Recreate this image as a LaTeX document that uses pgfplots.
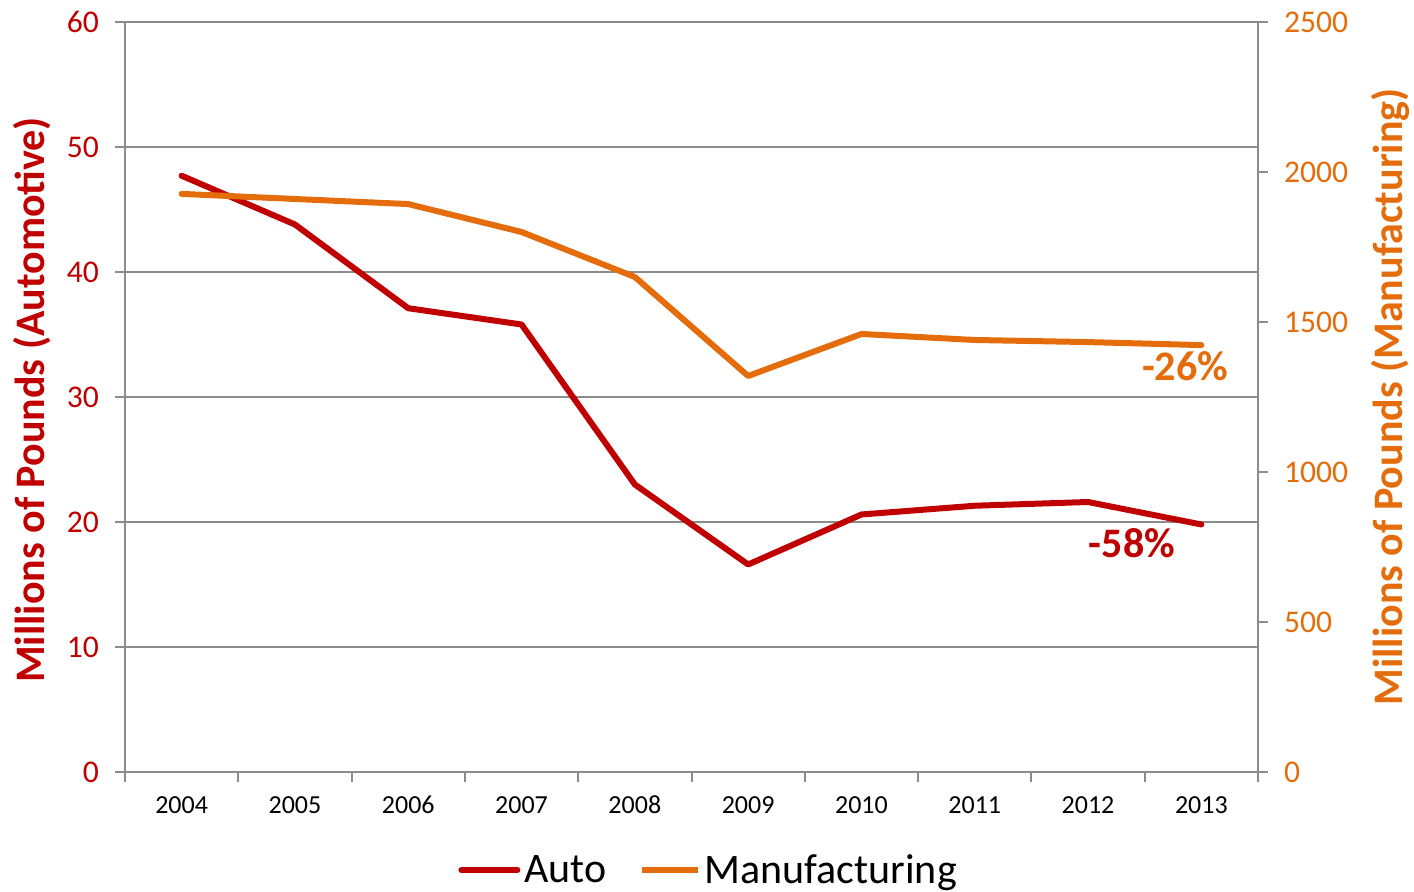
\documentclass[border=0pt]{standalone}
\usepackage{pgfplots}
\pgfplotsset{compat=1.18}
\usepackage{fontspec}
\setmainfont{Carlito}
\definecolor{autored}{HTML}{C00000}
\definecolor{mfgorange}{HTML}{E46C0A}
\definecolor{gridgray}{HTML}{8C8C8C}
\pgfplotsset{/pgf/number format/assume math mode=true, /pgf/number format/1000 sep={}}
\begin{document}
\begin{tikzpicture}
\useasboundingbox (-62.5pt,-60pt) rectangle (644.5pt,386pt);
\begin{axis}[
  scale only axis, width=566.5pt, height=375pt,
  at={(0,0)}, anchor=south west,
  xmin=-0.5, xmax=9.5, ymin=0, ymax=60,
  axis x line*=bottom, axis y line*=left,
  axis line style={gridgray, line width=1pt, -},
  tick style={gridgray, line width=1pt},
  tick align=outside, major tick length=5pt,
  xtick={-0.5,0.5,1.5,2.5,3.5,4.5,5.5,6.5,7.5,8.5,9.5}, xticklabels={},
  extra x ticks={0,1,2,3,4,5,6,7,8,9},
  extra x tick labels={2004,2005,2006,2007,2008,2009,2010,2011,2012,2013},
  extra x tick style={major tick length=0pt, tick label style={font=\fontsize{13}{15}\selectfont, text=black, anchor=base, text height=9pt, yshift=-21pt}},
  ytick={0,10,...,60},
  ymajorgrids, grid style={gridgray, line width=1pt},
  yticklabel style={font=\fontsize{15.8}{18}\selectfont, text=autored, xshift=-4.5pt},
  ylabel={Millions of Pounds (Automotive)},
  ylabel style={at={(axis description cs:-0.0821,0.496)}, anchor=center, font=\bfseries\fontsize{21}{24}\selectfont, text=autored},
  legend style={at={(axis description cs:0.516,-0.131)}, anchor=center, draw=none, fill=none,
    font=\fontsize{21}{24}\selectfont, legend columns=2,
    /tikz/every even column/.append style={column sep=14pt}},
  legend image code/.code={\draw[#1, line width=3pt] (0pt,0pt) -- (28pt,0pt);},
  clip=false,
]
\addplot[autored, line width=3pt, line cap=round, line join=round] coordinates {
  (0,47.7) (1,43.8) (2,37.1) (3,35.8) (4,23.0) (5,16.6) (6,20.6) (7,21.3) (8,21.6) (9,19.8)};
\addlegendentry{Auto}
\addlegendimage{mfgorange, line width=3pt}
\addlegendentry{Manufacturing}
\node[font=\bfseries\fontsize{21}{24}\selectfont, text=mfgorange] at (axis cs:8.856,32.5) {-26\%};
\node[font=\bfseries\fontsize{21}{24}\selectfont, text=autored] at (axis cs:8.388,18.3) {-58\%};
\end{axis}
\begin{axis}[
  scale only axis, width=566.5pt, height=375pt,
  at={(0,0)}, anchor=south west,
  xmin=-0.5, xmax=9.5, ymin=0, ymax=2500,
  axis x line=none, axis y line*=right,
  axis line style={gridgray, line width=1pt, -},
  tick style={gridgray, line width=1pt},
  tick align=outside, major tick length=5pt,
  ytick={0,500,...,2500},
  yticklabel style={font=\fontsize{15.8}{18}\selectfont, text=mfgorange, xshift=4.5pt},
  ylabel={Millions of Pounds (Manufacturing)},
  ylabel style={at={(axis description cs:1.1165,0.5)}, anchor=center, rotate=0, font=\bfseries\fontsize{21}{24}\selectfont, text=mfgorange},
  clip=false,
]
\addplot[mfgorange, line width=3pt, line cap=round, line join=round] coordinates {
  (0,1927) (1,1910) (2,1893) (3,1800) (4,1650) (5,1320) (6,1460) (7,1440) (8,1433) (9,1423)};
\end{axis}
\end{tikzpicture}
\end{document}
